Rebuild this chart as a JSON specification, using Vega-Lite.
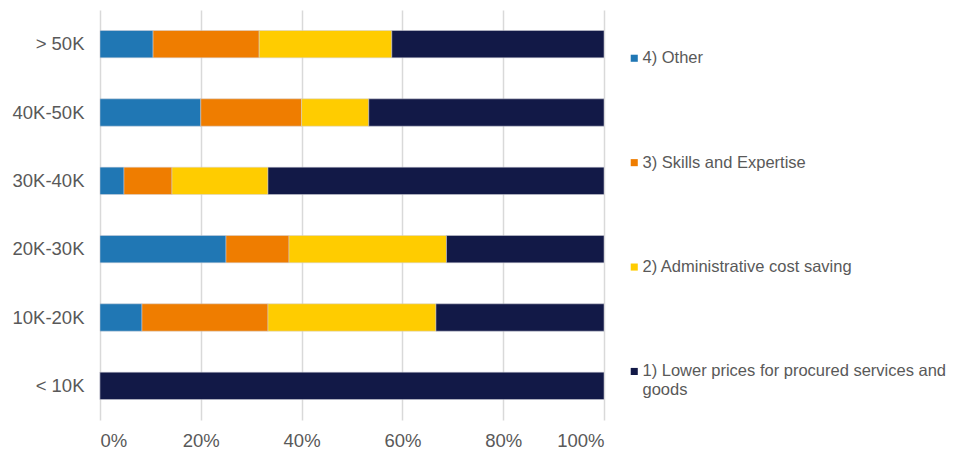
{
  "$schema": "https://vega.github.io/schema/vega-lite/v6.json",
  "width": 504,
  "height": 410,
  "autosize": "none",
  "padding": {"left": 100, "top": 10, "right": 351, "bottom": 35},
  "background": "white",
  "config": {
    "view": {"stroke": null},
    "font": "Liberation Sans"
  },
  "data": {
    "values": [
      {"band": "> 50K", "reason": "4) Other", "ord": 1, "value": 10.53},
      {"band": "> 50K", "reason": "3) Skills and Expertise", "ord": 2, "value": 21.05},
      {"band": "> 50K", "reason": "2) Administrative cost saving", "ord": 3, "value": 26.32},
      {"band": "> 50K", "reason": "1) Lower prices for procured services and goods", "ord": 4, "value": 42.1},
      {"band": "40K-50K", "reason": "4) Other", "ord": 1, "value": 20},
      {"band": "40K-50K", "reason": "3) Skills and Expertise", "ord": 2, "value": 20},
      {"band": "40K-50K", "reason": "2) Administrative cost saving", "ord": 3, "value": 13.33},
      {"band": "40K-50K", "reason": "1) Lower prices for procured services and goods", "ord": 4, "value": 46.67},
      {"band": "30K-40K", "reason": "4) Other", "ord": 1, "value": 4.76},
      {"band": "30K-40K", "reason": "3) Skills and Expertise", "ord": 2, "value": 9.52},
      {"band": "30K-40K", "reason": "2) Administrative cost saving", "ord": 3, "value": 19.05},
      {"band": "30K-40K", "reason": "1) Lower prices for procured services and goods", "ord": 4, "value": 66.67},
      {"band": "20K-30K", "reason": "4) Other", "ord": 1, "value": 25},
      {"band": "20K-30K", "reason": "3) Skills and Expertise", "ord": 2, "value": 12.5},
      {"band": "20K-30K", "reason": "2) Administrative cost saving", "ord": 3, "value": 31.25},
      {"band": "20K-30K", "reason": "1) Lower prices for procured services and goods", "ord": 4, "value": 31.25},
      {"band": "10K-20K", "reason": "4) Other", "ord": 1, "value": 8.33},
      {"band": "10K-20K", "reason": "3) Skills and Expertise", "ord": 2, "value": 25},
      {"band": "10K-20K", "reason": "2) Administrative cost saving", "ord": 3, "value": 33.33},
      {"band": "10K-20K", "reason": "1) Lower prices for procured services and goods", "ord": 4, "value": 33.34},
      {"band": "< 10K", "reason": "4) Other", "ord": 1, "value": 0},
      {"band": "< 10K", "reason": "3) Skills and Expertise", "ord": 2, "value": 0},
      {"band": "< 10K", "reason": "2) Administrative cost saving", "ord": 3, "value": 0},
      {"band": "< 10K", "reason": "1) Lower prices for procured services and goods", "ord": 4, "value": 100}
    ]
  },
  "mark": {"type": "bar", "stroke": "#d0d0d8", "strokeWidth": 0.5},
  "encoding": {
    "y": {
      "field": "band",
      "type": "nominal",
      "sort": ["> 50K", "40K-50K", "30K-40K", "20K-30K", "10K-20K", "< 10K"],
      "scale": {"paddingInner": 0.6, "paddingOuter": 0.3},
      "axis": {
        "title": null,
        "domain": false,
        "ticks": false,
        "labelFontSize": 18.5,
        "labelColor": "#595959",
        "labelPadding": 16
      }
    },
    "x": {
      "field": "value",
      "type": "quantitative",
      "stack": "normalize",
      "scale": {"domain": [0, 1]},
      "axis": {
        "title": null,
        "format": ".0%",
        "values": [0, 0.2, 0.4, 0.6, 0.8, 1],
        "domain": false,
        "ticks": false,
        "grid": true,
        "gridColor": "#d9d9d9",
        "gridWidth": 1.5,
        "labelFontSize": 18.5,
        "labelColor": "#595959",
        "labelPadding": 11
      }
    },
    "color": {
      "field": "reason",
      "type": "nominal",
      "scale": {
        "domain": ["4) Other", "3) Skills and Expertise", "2) Administrative cost saving", "1) Lower prices for procured services and goods"],
        "range": ["#2077b4", "#ef7d00", "#ffcc00", "#121947"]
      },
      "legend": {
        "title": null,
        "orient": "none",
        "legendX": 526,
        "legendY": 40,
        "symbolType": "square",
        "symbolSize": 50,
        "symbolStrokeWidth": 0,
        "labelFontSize": 16.5,
        "labelColor": "#595959",
        "labelOffset": 0,
        "labelLimit": 400,
        "rowPadding": 87.4,
        "labelExpr": "datum.label == '1) Lower prices for procured services and goods' ? ['1) Lower prices for procured services and', 'goods'] : datum.label"
      }
    },
    "order": {"field": "ord", "type": "quantitative"}
  }
}
